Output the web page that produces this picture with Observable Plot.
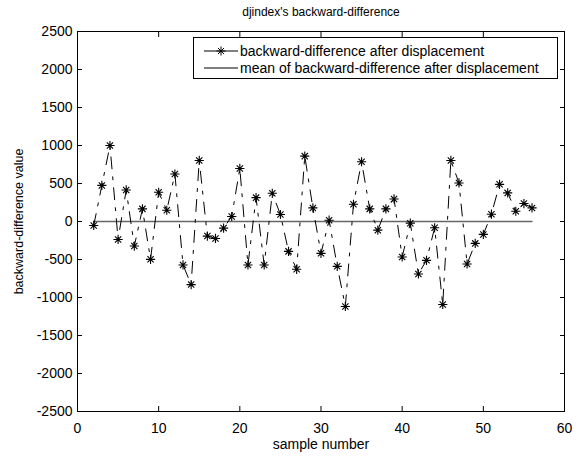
<!DOCTYPE html>
<html>
<head>
<meta charset="utf-8">
<script src="https://cdn.jsdelivr.net/npm/d3@7"></script>
<script src="https://cdn.jsdelivr.net/npm/@observablehq/plot@0.6"></script>
<style>
  body { margin: 0; background: #fff; }
  #wrap { position: relative; width: 580px; height: 456px; font-family: "Liberation Sans", Arial, sans-serif; }
  #legend { position: absolute; left: 193px; top: 37px; width: 363px; height: 40px; border: 1px solid #000; background: #fff; font-size: 14px; }
  .row { position: absolute; left: 0; height: 18px; width: 100%; }
  .row svg { position: absolute; left: 8px; top: 0; }
  .row span { position: absolute; left: 46px; top: 0px; white-space: nowrap; line-height: 18px; }
</style>
</head>
<body>
<div id="wrap">
  <div id="chart"></div>
  <div id="legend">
    <div class="row" style="top:4px">
      <svg width="40" height="18"><line x1="2" y1="9" x2="36" y2="9" stroke="#000"/><g stroke="#000" stroke-width="1"><line x1="19" y1="4.5" x2="19" y2="13.5"/><line x1="14.5" y1="9" x2="23.5" y2="9"/><line x1="16" y1="6" x2="22" y2="12"/><line x1="16" y1="12" x2="22" y2="6"/></g></svg>
      <span>backward-difference after displacement</span>
    </div>
    <div class="row" style="top:21px">
      <svg width="40" height="18"><line x1="2" y1="9" x2="36" y2="9" stroke="#000"/></svg>
      <span>mean of backward-difference after displacement</span>
    </div>
  </div>
</div>
<script>
const sampleNumbers = [2,3,4,5,6,7,8,9,10,11,12,13,14,15,16,17,18,19,20,21,22,23,24,25,26,27,28,29,30,31,32,33,34,35,36,37,38,39,40,41,42,43,44,45,46,47,48,49,50,51,52,53,54,55,56];
const diffValues = [-52,475,1000,-236,415,-323,166,-498,384,148,625,-572,-830,803,-192,-223,-87,66,698,-572,314,-572,371,92,-393,-629,860,179,-419,17,-590,-1118,227,786,166,-114,166,297,-467,-22,-690,-511,-83,-1092,803,507,-559,-288,-170,96,489,376,135,236,179];
const meanValue = 0;
const meanX = [2, 56];
const xTicks = [0,10,20,30,40,50,60];
const yTicks = [-2500,-2000,-1500,-1000,-500,0,500,1000,1500,2000,2500];
const titleText = "djindex's backward-difference";
const xLabel = "sample number";
const yLabel = "backward-difference value";

const pts = sampleNumbers.map((x, i) => ({x, y: diffValues[i]}));
const meanPts = meanX.map(x => ({x, y: meanValue}));
const fmt = d => String(d);

const star = {
  draw(ctx, size) {
    const r = Math.sqrt(size / Math.PI);
    const d = r * 0.68;
    ctx.moveTo(0, -r); ctx.lineTo(0, r);
    ctx.moveTo(-r, 0); ctx.lineTo(r, 0);
    ctx.moveTo(-d, -d); ctx.lineTo(d, d);
    ctx.moveTo(-d, d); ctx.lineTo(d, -d);
  }
};

const plot = Plot.plot({
  width: 580,
  height: 456,
  marginLeft: 77,
  marginRight: 16,
  marginTop: 31,
  marginBottom: 45,
  style: {fontFamily: "Liberation Sans, Arial, sans-serif", fontSize: "14px", color: "#000", background: "#fff"},
  x: {domain: [0, 60]},
  y: {domain: [-2500, 2500]},
  marks: [
    Plot.frame({stroke: "#000", strokeWidth: 1}),
    Plot.axisX({ticks: xTicks, anchor: "bottom", tickSize: 0, tickPadding: 12, tickFormat: fmt, label: null, fontSize: 14}),
    Plot.axisX({ticks: xTicks, anchor: "bottom", tickSize: 5, dy: -5, tickFormat: () => "", label: null}),
    Plot.axisX({ticks: xTicks, anchor: "top", tickSize: 5, dy: 5, tickFormat: () => "", label: null}),
    Plot.axisY({ticks: yTicks, anchor: "left", tickSize: 0, tickPadding: 5, tickFormat: fmt, label: null, fontSize: 14}),
    Plot.axisY({ticks: yTicks, anchor: "left", tickSize: 5, dx: 5, tickFormat: () => "", label: null}),
    Plot.axisY({ticks: yTicks, anchor: "right", tickSize: 5, dx: -5, tickFormat: () => "", label: null}),
    Plot.line(meanPts, {x: "x", y: "y", stroke: "#666", strokeWidth: 1.3}),
    Plot.line(pts, {x: "x", y: "y", stroke: "#000", strokeWidth: 1, strokeDasharray: "12,8,3,8"}),
    Plot.dot(pts, {x: "x", y: "y", symbol: star, r: 4.6, stroke: "#000", strokeWidth: 1.1, fill: "none"}),
    Plot.text([titleText], {text: d => d, frameAnchor: "top", dy: -24, fontSize: 12}),
    Plot.text([xLabel], {text: d => d, frameAnchor: "bottom", lineAnchor: "middle", dy: 33, fontSize: 14}),
    Plot.text([yLabel], {text: d => d, frameAnchor: "left", textAnchor: "middle", lineAnchor: "middle", dx: -59, rotate: -90, fontSize: 12.5})
  ]
});
document.getElementById("chart").appendChild(plot);
</script>
</body>
</html>
